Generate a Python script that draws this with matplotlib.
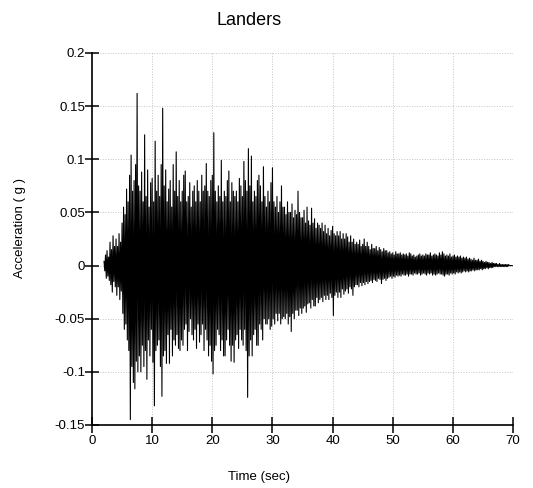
import numpy as np
import matplotlib.pyplot as plt

plt.rcParams.update({
    'font.family': ['Liberation Sans', 'DejaVu Sans'],
    'font.size': 9.5,
})

# record starts at t = 2 s, peaks read every 0.25 s (units of 0.001 g)
t_start = 2.0
dt_peak = 0.25

pos_peaks = [
    4, 10, 14, 8,      22, 15, 28, 18,     25, 18, 30, 22,     40, 55, 48, 72,
    60, 85, 104, 70,   80, 95, 162, 75,    70, 88, 60, 123,    65, 90, 55, 78,
    82, 60, 117, 70,   85, 65, 95, 148,    75, 90, 60, 72,     80, 55, 95, 70,
    107, 65, 80, 60,   70, 85, 89, 60,     65, 78, 55, 70,     75, 60, 80, 70,
    60, 85, 70, 75,    96, 70, 65, 80,     85, 125, 70, 60,    75, 65, 99, 60,
    70, 65, 80, 89,    60, 78, 70, 65,     70, 60, 82, 75,     65, 98, 80, 70,
    110, 75, 103, 60,  70, 65, 80, 85,     75, 60, 93, 65,     55, 70, 60, 78,
    92, 60, 55, 65,    50, 60, 75, 55,     55, 48, 60, 50,     50, 58, 45, 52,
    48, 70, 50, 45,    45, 52, 40, 55,     42, 38, 54, 40,     44, 35, 40, 38,
    35, 40, 32, 38,    30, 35, 28, 33,     37, 30, 28, 32,     28, 32, 25, 30,
    25, 30, 27, 22,    28, 22, 25, 20,     22, 20, 24, 18,     20, 25, 18, 22,
    18, 15, 20, 16,    16, 18, 14, 17,     15, 13, 16, 14,     14, 12, 13, 11,
    12, 10, 13, 11,    11, 12, 10, 11,     10, 11, 9, 12,      11, 9, 10, 8,
    9, 10, 11, 9,      10, 9, 11, 10,      10, 12, 9, 10,      11, 10, 9, 12,
    10, 13, 11, 9,     10, 9, 11, 8,       9, 10, 8, 9,        8, 9, 7, 8,
    7, 8, 6, 7,        6, 5, 7, 5,         5, 6, 4, 5,         4, 3, 4, 3,
    3, 2, 3, 2,        2, 2, 1, 2,         1, 1, 1, 1,         1, 1, 0, 0,
]

neg_peaks = [
    -5, -12, -10, -14,    -18, -25, -15, -20,   -28, -20, -32, -24,   -45, -60, -55, -70,
    -80, -145, -95, -110, -116, -90, -100, -85, -100, -75, -95, -80,  -107, -70, -85, -60,
    -91, -132, -80, -75,  -70, -95, -123, -85,  -80, -92, -65, -92,   -60, -85, -70, -75,
    -65, -78, -80, -70,   -75, -60, -55, -80,   -62, -50, -65, -70,   -60, -78, -55, -72,
    -65, -55, -80, -60,   -70, -85, -75, -90,   -102, -80, -75, -60,  -65, -80, -70, -85,
    -85, -70, -60, -75,   -90, -75, -91, -70,   -65, -78, -60, -70,   -75, -60, -80, -124,
    -85, -70, -85, -65,   -60, -75, -75, -55,   -60, -70, -50, -55,   -55, -50, -60, -57,
    -50, -55, -45, -52,   -45, -55, -50, -48,   -50, -45, -55, -48,   -62, -45, -50, -42,
    -42, -47, -40, -45,   -40, -38, -44, -36,   -35, -40, -32, -38,   -38, -30, -35, -32,
    -30, -34, -28, -32,   -28, -32, -26, -30,   -47, -28, -25, -30,   -25, -30, -22, -27,
    -24, -22, -26, -20,   -22, -28, -20, -18,   -18, -20, -16, -19,   -16, -18, -15, -17,
    -15, -14, -16, -13,   -14, -15, -12, -13,   -17, -13, -12, -14,   -12, -11, -10, -12,
    -10, -11, -9, -10,    -9, -10, -8, -9,      -9, -8, -10, -8,      -8, -9, -7, -8,
    -8, -7, -9, -8,       -7, -8, -9, -7,       -8, -7, -9, -8,       -9, -8, -7, -8,
    -8, -9, -10, -8,      -8, -9, -7, -8,       -7, -8, -6, -7,       -6, -7, -6, -5,
    -6, -5, -6, -5,       -5, -4, -5, -4,       -4, -4, -3, -4,       -3, -3, -2, -3,
    -2, -2, -2, -1,       -1, -1, -1, -1,       -1, -1, -1, -1,       -1, 0, 0, 0,
]

x_ticks = [0, 10, 20, 30, 40, 50, 60, 70]
y_ticks = [-0.15, -0.1, -0.05, 0, 0.05, 0.1, 0.15, 0.2]
y_labels = ['-0.15', '-0.1', '-0.05', '0', '0.05', '0.1', '0.15', '0.2']

# interleave positive and negative peaks into one trace
acc = np.empty(2 * len(pos_peaks))
acc[0::2] = np.array(pos_peaks) / 1000.0
acc[1::2] = np.array(neg_peaks) / 1000.0
time = t_start + np.arange(len(acc)) * dt_peak / 2

fig = plt.figure(figsize=(5.33, 4.88), dpi=100)
ax = fig.add_axes([0.1726, 0.1291, 0.79, 0.7623])

ax.plot(time, acc, color='black', linewidth=0.8)

ax.set_xlim(0, 70)
ax.set_ylim(-0.15, 0.2)
ax.set_xticks(x_ticks)
ax.set_yticks(y_ticks)
ax.set_yticklabels(y_labels)
ax.grid(True, linestyle=':', color='#c4c4c4', linewidth=0.7)
ax.set_axisbelow(True)

for side in ['top', 'right']:
    ax.spines[side].set_visible(False)
for side in ['left', 'bottom']:
    ax.spines[side].set_linewidth(1.2)
ax.tick_params(direction='inout', length=11, width=1.1, pad=2, labelsize=9.5)
ax.tick_params(axis='y', length=10, pad=0)

fig.text(0.467, 0.957, 'Landers', ha='center', va='center', fontsize=13)
fig.text(0.485, 0.023, 'Time (sec)', ha='center', va='center', fontsize=9.5)
fig.text(0.038, 0.533, 'Acceleration ( g )', ha='center', va='center',
         rotation=90, fontsize=9.5)

fig.savefig('out.png', dpi=100)
